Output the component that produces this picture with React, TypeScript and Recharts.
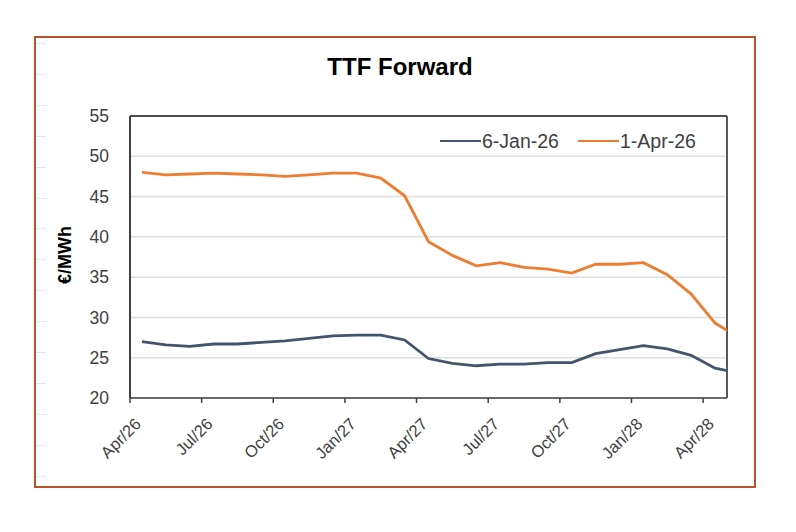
import React from 'react';
import { LineChart, Line, XAxis, YAxis, CartesianGrid, ReferenceLine } from 'recharts';

const monthLabels = ['Apr/26','May/26','Jun/26','Jul/26','Aug/26','Sep/26','Oct/26','Nov/26','Dec/26','Jan/27','Feb/27','Mar/27','Apr/27','May/27','Jun/27','Jul/27','Aug/27','Sep/27','Oct/27','Nov/27','Dec/27','Jan/28','Feb/28','Mar/28','Apr/28','May/28'];
const jan26 = [27.0, 26.6, 26.4, 26.7, 26.7, 26.9, 27.1, 27.4, 27.7, 27.8, 27.8, 27.2, 24.9, 24.3, 24.0, 24.2, 24.2, 24.4, 24.4, 25.5, 26.0, 26.5, 26.1, 25.3, 23.7, 23.1];
const apr26 = [48.0, 47.7, 47.8, 47.9, 47.8, 47.7, 47.5, 47.7, 47.9, 47.9, 47.3, 45.1, 39.4, 37.7, 36.4, 36.8, 36.2, 36.0, 35.5, 36.6, 36.6, 36.8, 35.3, 32.9, 29.3, 27.5];
const xTickMonths = [0, 3, 6, 9, 12, 15, 18, 21, 24];
const yTicks = [20, 25, 30, 35, 40, 45, 50, 55];
const seriesNames = ['6-Jan-26', '1-Apr-26'];
const seriesColors = ['#44546a', '#ed7d31'];

const data = monthLabels.map((m, i) => ({ x: i + 0.5, label: m, a: jan26[i], b: apr26[i] }));

const FONT = '"Liberation Sans", Arial, sans-serif';

const XTick = (props: any) => {
  const { x, y, payload } = props;
  const idx = Math.round(payload.value);
  const tx = x + 12;
  const ty = y + 20;
  return (
    <text x={tx} y={ty} textAnchor="end" fill="#404040" fontSize={16.5} fontFamily={FONT} transform={`rotate(-45, ${tx}, ${ty})`}>
      {monthLabels[idx]}
    </text>
  );
};

export default function App() {
  return (
    <div style={{ position: 'relative', width: 780, height: 516, fontFamily: FONT, background: '#fff' }}>
      <div style={{ position: 'absolute', left: 26, top: 28, width: 722, height: 452, border: '2px solid #b5532b', boxSizing: 'border-box' }} />
      <div style={{ position: 'absolute', left: 28, top: 35, width: 10, height: 445, background: 'repeating-linear-gradient(to bottom, #e4e4e4 0px, #e4e4e4 1px, transparent 1px, transparent 30.9px)' }} />
      <div style={{ position: 'absolute', left: 2, top: 47, width: 780, textAlign: 'center', fontSize: 24, lineHeight: '24px', fontWeight: 'bold', color: '#000' }}>TTF Forward</div>
      <div style={{ position: 'absolute', left: 57, top: 247, width: 0, height: 0 }}>
        <div style={{ position: 'absolute', left: -40, top: -10, width: 80, height: 20, lineHeight: '20px', textAlign: 'center', fontSize: 18, fontWeight: 'bold', color: '#000', transform: 'rotate(-90deg)' }}>€/MWh</div>
      </div>
      <div style={{ position: 'absolute', left: 0, top: 0 }}>
        <LineChart width={780} height={516} data={data} margin={{ top: 108, right: 61, bottom: 66, left: 72 }}>
          <CartesianGrid vertical={false} stroke="#dedede" strokeWidth={1.5} />
          <XAxis
            dataKey="x"
            type="number"
            domain={[0, 25]}
            allowDataOverflow
            ticks={xTickMonths}
            interval={0}
            height={60}
            tickSize={5}
            tickMargin={2}
            tick={<XTick />}
            axisLine={{ stroke: '#404040', strokeWidth: 1.5 }}
            tickLine={{ stroke: '#404040', strokeWidth: 1.5 }}
          />
          <YAxis
            type="number"
            domain={[20, 55]}
            ticks={yTicks}
            interval={0}
            width={50}
            tickLine={false}
            tickSize={0}
            tickMargin={21}
            axisLine={{ stroke: '#404040', strokeWidth: 2 }}
            tick={{ fill: '#404040', fontSize: 17.5, fontFamily: FONT }}
          />
          <ReferenceLine y={55} stroke="#1a1a1a" strokeWidth={1.5} />
          <ReferenceLine x={25} stroke="#595959" strokeWidth={2} />
          <Line type="linear" dataKey="a" name={seriesNames[0]} stroke={seriesColors[0]} strokeWidth={2.8} dot={false} isAnimationActive={false} />
          <Line type="linear" dataKey="b" name={seriesNames[1]} stroke={seriesColors[1]} strokeWidth={2.8} dot={false} isAnimationActive={false} />
        </LineChart>
      </div>
      <div style={{ position: 'absolute', left: 432, top: 123, height: 20, display: 'flex', alignItems: 'center', fontSize: 19.5, color: '#404040' }}>
        {seriesNames.map((n, i) => (
          <div key={n} style={{ display: 'flex', alignItems: 'center', marginRight: i === 0 ? 19 : 0 }}>
            <div style={{ width: 41, height: 0, borderTop: `2.8px solid ${seriesColors[i]}`, marginRight: 1 }} />
            <span>{n}</span>
          </div>
        ))}
      </div>
    </div>
  );
}
